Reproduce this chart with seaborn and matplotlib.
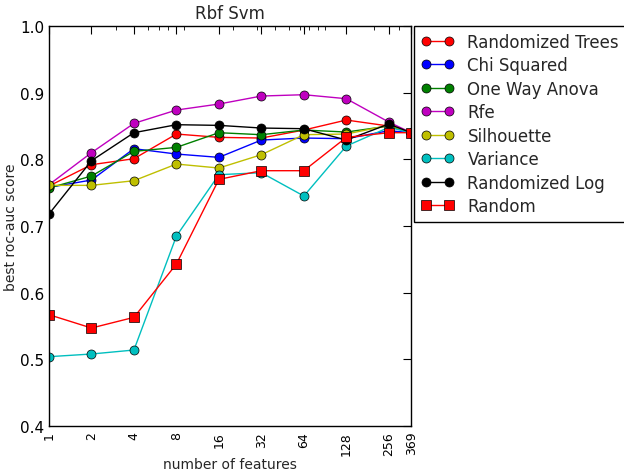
import matplotlib
matplotlib.use('Agg')
import matplotlib.pyplot as plt
from matplotlib.ticker import NullFormatter
import seaborn as sns

n_features = [1, 2, 4, 8, 16, 32, 64, 128, 256, 369]

randomized_trees = [0.760, 0.792, 0.801, 0.838, 0.833, 0.832, 0.844, 0.859, 0.850, 0.840]
chi_squared = [0.758, 0.769, 0.816, 0.808, 0.803, 0.829, 0.832, 0.831, 0.843, 0.840]
one_way_anova = [0.757, 0.775, 0.812, 0.818, 0.840, 0.837, 0.844, 0.841, 0.850, 0.840]
rfe = [0.762, 0.810, 0.854, 0.874, 0.883, 0.895, 0.897, 0.891, 0.856, 0.840]
silhouette = [0.761, 0.761, 0.768, 0.793, 0.787, 0.807, 0.837, 0.838, 0.851, 0.840]
variance = [0.504, 0.508, 0.514, 0.685, 0.777, 0.780, 0.745, 0.820, 0.848, 0.840]
randomized_log = [0.718, 0.798, 0.840, 0.852, 0.851, 0.847, 0.846, 0.829, 0.853, 0.840]
random_sel = [0.567, 0.547, 0.563, 0.643, 0.770, 0.783, 0.783, 0.833, 0.840, 0.840]

series = [
    ('Randomized Trees', randomized_trees, 'r', 'o'),
    ('Chi Squared', chi_squared, 'b', 'o'),
    ('One Way Anova', one_way_anova, 'g', 'o'),
    ('Rfe', rfe, 'm', 'o'),
    ('Silhouette', silhouette, 'y', 'o'),
    ('Variance', variance, 'c', 'o'),
    ('Randomized Log', randomized_log, 'k', 'o'),
    ('Random', random_sel, 'r', 's'),
]

sns.set_style('white')
plt.rcParams['font.family'] = ['DejaVu Sans']
plt.rcParams['xtick.direction'] = 'in'
plt.rcParams['ytick.direction'] = 'in'
plt.rcParams['xtick.top'] = True
plt.rcParams['ytick.right'] = True

fig = plt.figure(figsize=(6.24, 4.77), dpi=100)
ax = fig.add_axes([0.0785, 0.1048, 0.5805, 0.8385])

for name, vals, col, mk in series:
    sns.lineplot(x=n_features, y=vals, color=col, marker=mk, label=name,
                 markersize=6.5, markeredgecolor='k', markeredgewidth=0.5,
                 linewidth=1, ax=ax)

ax.set_xscale('log')
ax.set_xlim(1, 369)
ax.set_ylim(0.4, 1.0)
ax.set_xticks(n_features)
ax.set_xticklabels([str(v) for v in n_features], rotation=90, fontsize=9)
ax.xaxis.set_minor_formatter(NullFormatter())
ax.set_yticks([0.4, 0.5, 0.6, 0.7, 0.8, 0.9, 1.0])
ax.set_yticklabels(['0.4', '0.5', '0.6', '0.7', '0.8', '0.9', '1.0'], fontsize=11)
ax.tick_params(which='major', length=6, width=0.8, colors='k')
ax.tick_params(which='minor', length=3, width=0.6, colors='k')
for s in ax.spines.values():
    s.set_color('k')
    s.set_linewidth(1)

ax.set_xlabel('number of features', fontsize=10, labelpad=2)
ax.set_ylabel('best roc-auc score', fontsize=10, labelpad=1)
ax.set_title('Rbf Svm', fontsize=12)

leg = ax.legend(loc='upper left', bbox_to_anchor=(1.008, 1.0), borderaxespad=0,
                fontsize=12, numpoints=2, handlelength=2, labelspacing=0.33,
                fancybox=False, framealpha=1)
leg.get_frame().set_edgecolor('k')

fig.savefig('out.png', dpi=100)
